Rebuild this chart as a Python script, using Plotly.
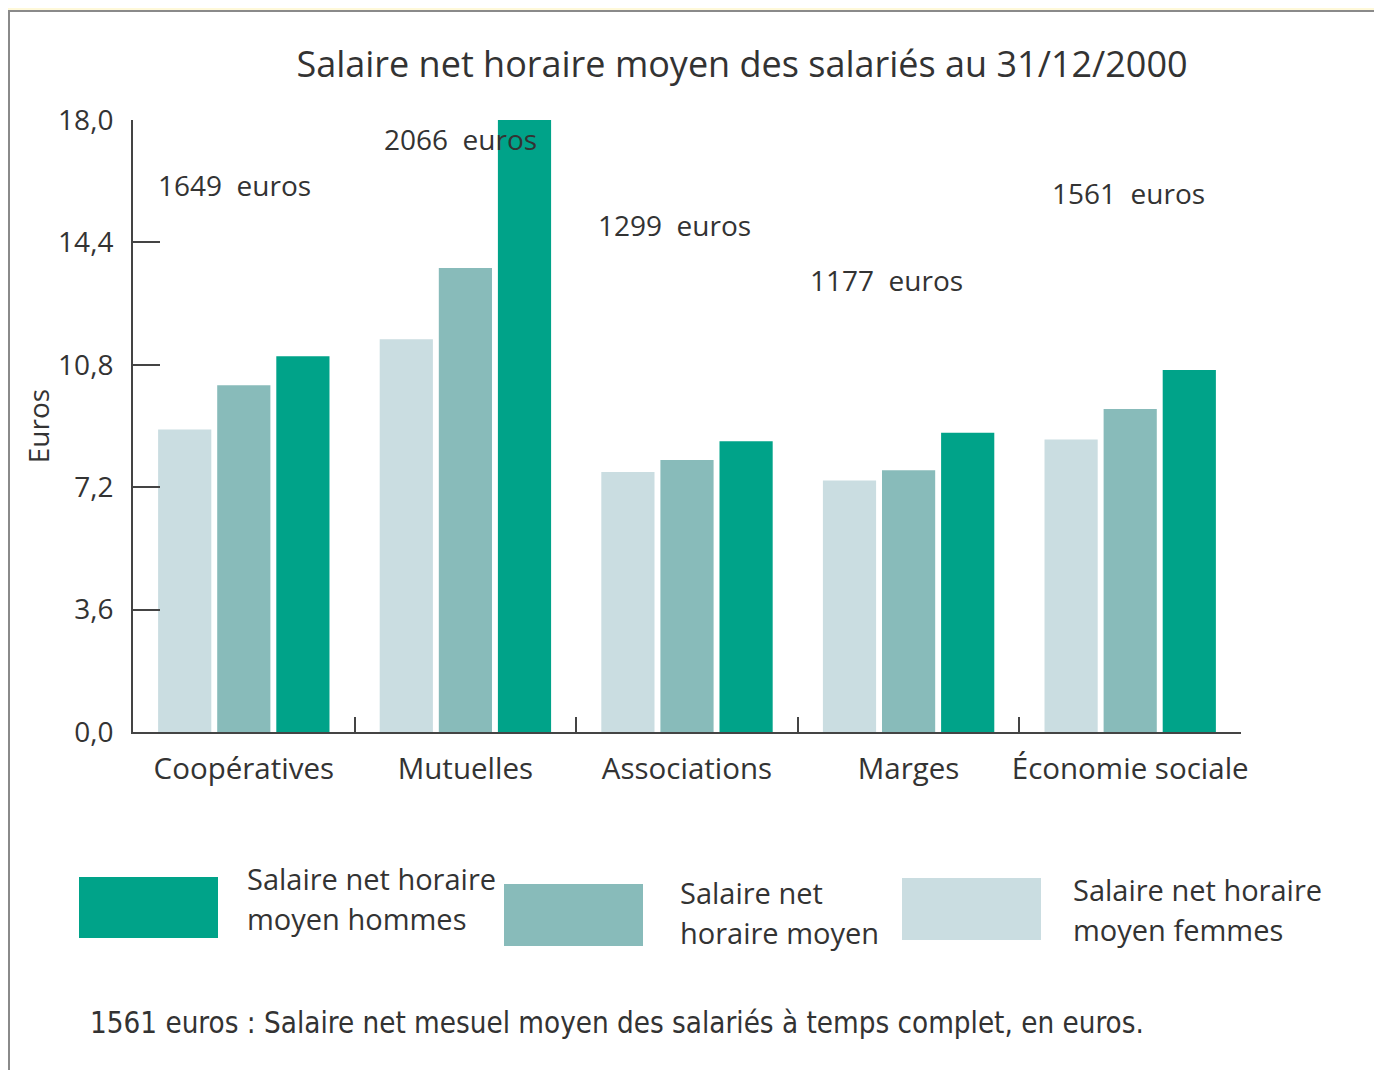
import plotly.graph_objects as go

# ---- data ----
categories = ["Coopératives", "Mutuelles", "Associations", "Marges", "Économie sociale"]
femmes = [8.9, 11.55, 7.65, 7.4, 8.6]
moyen = [10.2, 13.65, 8.0, 7.7, 9.5]
hommes = [11.05, 18.0, 8.55, 8.8, 10.65]
monthly = [1649, 2066, 1299, 1177, 1561]
monthly_y = [16.1, 17.45, 14.9, 13.3, 15.85]
monthly_dx = [-9, -5, -13, -22, -2]
y_ticks = [0, 3.6, 7.2, 10.8, 14.4, 18.0]
y_ticklabels = ["0,0", "3,6", "7,2", "10,8", "14,4", "18,0"]
series_names = ["Salaire net horaire<br>moyen femmes",
                "Salaire net<br>horaire moyen",
                "Salaire net horaire<br>moyen hommes"]
colors = ["#cadde1", "#88bbba", "#00a389"]
title = "Salaire net horaire moyen des salariés au 31/12/2000"
footnote = "1561 euros : Salaire net mesuel moyen des salariés à temps complet, en euros."

# ---- layout geometry (page pixels; the page body adds an 8px offset) ----
OFF = 8
W, H = 1382 - OFF, 1070 - OFF
L, R, T, B = 133, 1241, 120, 732   # page pixel positions of plot area
PW, PH = R - L, B - T

def px(x):
    return (x - L) / PW

def py(y):
    return (B - y) / PH

FONT = "Open Sans"
TXT = "#333333"

fig = go.Figure()
for name, vals, col in zip(series_names, [femmes, moyen, hommes], colors):
    fig.add_trace(go.Bar(x=categories, y=vals, name=name.replace("<br>", " "),
                         marker=dict(color=col, line=dict(width=0)),
                         showlegend=False, cliponaxis=False))

shapes = []
# page frame
shapes.append(dict(type="rect", xref="paper", yref="paper", x0=px(9), x1=px(1400),
                   y0=py(1090), y1=py(11), fillcolor="white",
                   line=dict(color="#8a8a8a", width=2), layer="below"))

annotations = []
# monthly salary labels
for c, m, yv, dx in zip(categories, monthly, monthly_y, monthly_dx):
    annotations.append(dict(x=c, y=yv, xref="x", yref="y", text=f"{m}\u00a0 euros",
                            showarrow=False, xshift=dx,
                            font=dict(family=FONT, size=28, color=TXT)))

# legend (custom, large swatches)
leg_rects = [(902, 878, 1041, 940), (504, 884, 643, 946), (79, 877, 218, 938)]
leg_text = [(1071, 889), (678, 892), (245, 878)]
for name, col, (x0, y0, x1, y1), (tx, ty) in zip(series_names, colors, leg_rects, leg_text):
    shapes.append(dict(type="rect", xref="paper", yref="paper", x0=px(x0), x1=px(x1),
                       y0=py(y1), y1=py(y0), fillcolor=col, line=dict(width=0)))
    for i, line in enumerate(name.split("<br>")):
        annotations.append(dict(x=px(tx), y=py(ty + 40 * i), xref="paper", yref="paper",
                                text=line, showarrow=False, xanchor="left", yanchor="middle",
                                font=dict(family=FONT, size=29, color=TXT)))

annotations.append(dict(x=px(88), y=py(1023), xref="paper", yref="paper", text=footnote,
                        showarrow=False, xanchor="left", yanchor="middle",
                        font=dict(family="DejaVu Sans Condensed, Lato", size=29.3, color=TXT)))

fig.update_layout(
    width=W, height=H,
    margin=dict(l=L - OFF, r=W - (R - OFF), t=T - OFF, b=H - (B - OFF), pad=0),
    paper_bgcolor="#fff9d9", plot_bgcolor="rgba(0,0,0,0)",
    barmode="group", bargap=0.2, bargroupgap=0.1,
    title=dict(text=title, x=px(742), xref="paper", xanchor="center",
               y=1 - (64 - OFF) / H, yanchor="middle", yref="container",
               font=dict(family=FONT, size=36, color=TXT)),
    shapes=shapes, annotations=annotations, showlegend=False,
)
fig.update_xaxes(type="category", range=[-0.5, 4.5], showline=True, linecolor="#444444",
                 linewidth=2, ticks="inside", tickson="boundaries", ticklen=15, tickwidth=2,
                 tickcolor="#444444", showgrid=False, zeroline=False, tickangle=0,
                 tickfont=dict(family=FONT, size=29.5, color=TXT), ticklabelstandoff=10)
fig.update_yaxes(range=[0, 18], tickvals=y_ticks, ticktext=y_ticklabels, showline=True,
                 linecolor="#444444", linewidth=2, ticks="inside", ticklen=27, tickwidth=2,
                 tickcolor="#444444", showgrid=False, zeroline=False,
                 tickfont=dict(family=FONT, size=28, color=TXT), ticklabelstandoff=12,
                 title=dict(text="Euros", standoff=0, font=dict(family=FONT, size=28, color=TXT)))

fig.write_html("out.html")
